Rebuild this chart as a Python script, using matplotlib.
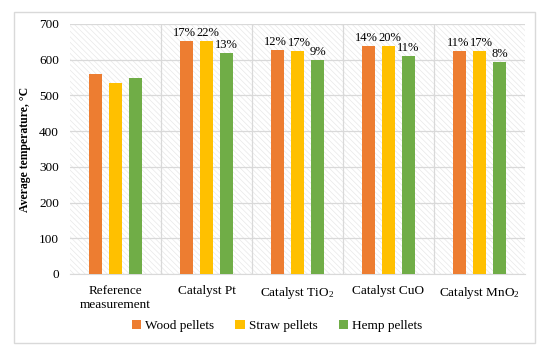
import numpy as np
import matplotlib.pyplot as plt
from matplotlib.patches import Rectangle

plt.rcParams['font.family'] = ['Liberation Serif', 'DejaVu Serif']
plt.rcParams['mathtext.fontset'] = 'custom'
plt.rcParams['mathtext.rm'] = 'Liberation Serif'
plt.rcParams['mathtext.it'] = 'Liberation Serif:italic'
plt.rcParams['mathtext.bf'] = 'Liberation Serif:bold'
plt.rcParams['hatch.color'] = '#e8e8e8'
plt.rcParams['hatch.linewidth'] = 0.5

categories = ['Reference\nmeasurement', 'Catalyst Pt', 'Catalyst TiO$_2$',
              'Catalyst CuO', 'Catalyst MnO$_2$']
wood = [560, 653, 627, 638, 624]
straw = [535, 652, 624, 638, 624]
hemp = [548, 619, 598, 610, 593]
wood_lbl = ['', '17%', '12%', '14%', '11%']
straw_lbl = ['', '22%', '17%', '20%', '17%']
hemp_lbl = ['', '13%', '9%', '11%', '8%']

series = [('Wood pellets', wood, wood_lbl, '#ED7D31'),
          ('Straw pellets', straw, straw_lbl, '#FFC000'),
          ('Hemp pellets', hemp, hemp_lbl, '#70AD47')]

fig = plt.figure(figsize=(5.5, 3.52), dpi=100)
fig.patches.append(Rectangle((14 / 550, 1 - 343 / 352), (535 - 14) / 550, (343 - 12) / 352,
                             transform=fig.transFigure, fill=False,
                             edgecolor='#d9d9d9', linewidth=1.0))
ax = fig.add_axes([70 / 550, 1 - 274 / 352, 455 / 550, 250 / 352])

# hatched background
ax.add_patch(Rectangle((0, 0), 1, 1, transform=ax.transAxes, facecolor='white',
                       edgecolor='#e8e8e8', hatch='\\\\\\\\\\\\', linewidth=0, zorder=0))

x = np.arange(len(categories))
w = 0.146
offsets = [-0.22, 0, 0.22]
nudge = [-0.02, 0.02, 0.0]
for (name, vals, lbls, col), off, nd in zip(series, offsets, nudge):
    bars = ax.bar(x + off, vals, w, color=col, label=name, zorder=3)
    for b, t in zip(bars, lbls):
        if t:
            ax.text(b.get_x() + b.get_width() / 2 + nd, b.get_height() + 6, t,
                    ha='center', va='bottom', fontsize=9, zorder=4)

ax.set_xlim(-0.5, len(categories) - 0.5)
ax.set_ylim(0, 700)
ax.set_yticks(range(0, 701, 100))
ax.set_xticks(x)
ax.set_xticklabels(categories, fontsize=9.5)
ax.tick_params(axis='y', labelsize=9.5, length=0, pad=8)
ax.tick_params(axis='x', length=0, pad=8)
for v in np.arange(0.5, len(categories) - 0.5):
    ax.axvline(v, color='#d9d9d9', linewidth=0.9, zorder=1)
ax.yaxis.grid(True, color='#d9d9d9', linewidth=0.9, zorder=1)
ax.set_axisbelow(True)
for s in ax.spines.values():
    s.set_visible(False)
ax.spines['bottom'].set_visible(True)
ax.spines['bottom'].set_color('#d9d9d9')

ax.set_ylabel('Average temperature, \u00b0C', fontsize=8.5, fontweight='bold', labelpad=6)

fig.legend(loc='center', bbox_to_anchor=(277 / 550, 1 - 326 / 352), ncol=3,
           frameon=False, fontsize=9.5, handlelength=0.7, handleheight=0.7,
           handletextpad=0.3, columnspacing=1.6)

fig.savefig('out.png', dpi=100)
